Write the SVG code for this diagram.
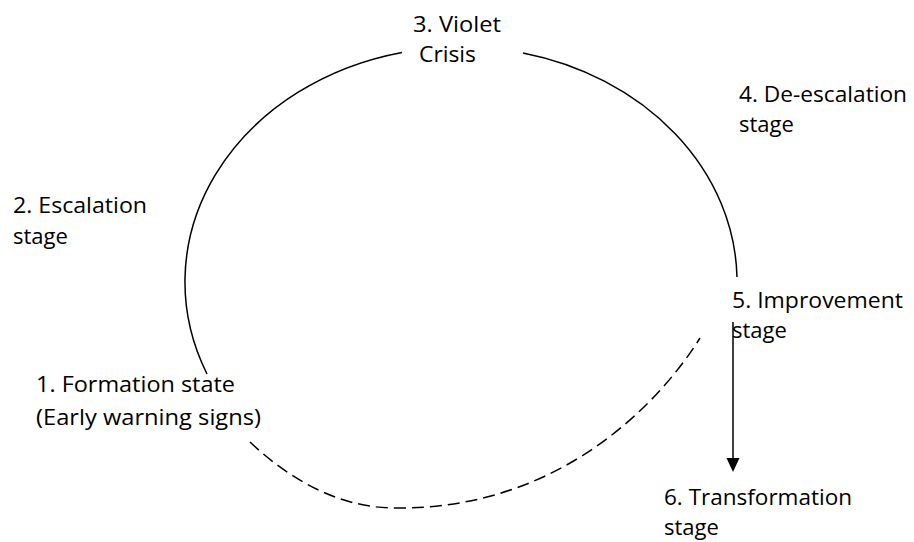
<svg xmlns="http://www.w3.org/2000/svg" width="914" height="542" viewBox="0 0 914 542">
<style>
.t{font-family:"Open Sans","Liberation Sans",sans-serif;font-size:22px;fill:#000}
.c{fill:none;stroke:#000;stroke-width:1.5}
.d{fill:none;stroke:#000;stroke-width:1.5;stroke-dasharray:12,6}
</style>
<rect width="914" height="542" fill="#fff"/>
<g id="connectors">
<path class="c" d="M402,52.4 A276,235 0 0 0 207,374"/>
<path class="c" d="M523,53 A276,235 0 0 1 737,277"/>
<path class="d" d="M250,442 C288,478 338,508 395,508 C560,510 660,402 700,338"/>
<path class="c" d="M733,322 L733,462"/>
<path d="M726.5,458 L739.5,458 L733,472 Z" fill="#000"/>
</g>
<g id="n3"><text class="t" x="413" y="32" textLength="88" lengthAdjust="spacingAndGlyphs">3. Violet</text><text class="t" x="419" y="62" textLength="57" lengthAdjust="spacingAndGlyphs">Crisis</text></g>
<g id="n4"><text class="t" x="739" y="102" textLength="168" lengthAdjust="spacingAndGlyphs">4. De-escalation</text><text class="t" x="739" y="132">stage</text></g>
<g id="n2"><text class="t" x="13" y="213" textLength="134" lengthAdjust="spacingAndGlyphs">2. Escalation</text><text class="t" x="13" y="244">stage</text></g>
<g id="n5"><text class="t" x="732" y="308" textLength="171" lengthAdjust="spacingAndGlyphs">5. Improvement</text><text class="t" x="732" y="338">stage</text></g>
<g id="n1"><text class="t" x="36" y="392" textLength="199" lengthAdjust="spacingAndGlyphs">1. Formation state</text><text class="t" x="36" y="425" textLength="225" lengthAdjust="spacingAndGlyphs">(Early warning signs)</text></g>
<g id="n6"><text class="t" x="664" y="505" textLength="188" lengthAdjust="spacingAndGlyphs">6. Transformation</text><text class="t" x="664" y="535">stage</text></g>
</svg>
